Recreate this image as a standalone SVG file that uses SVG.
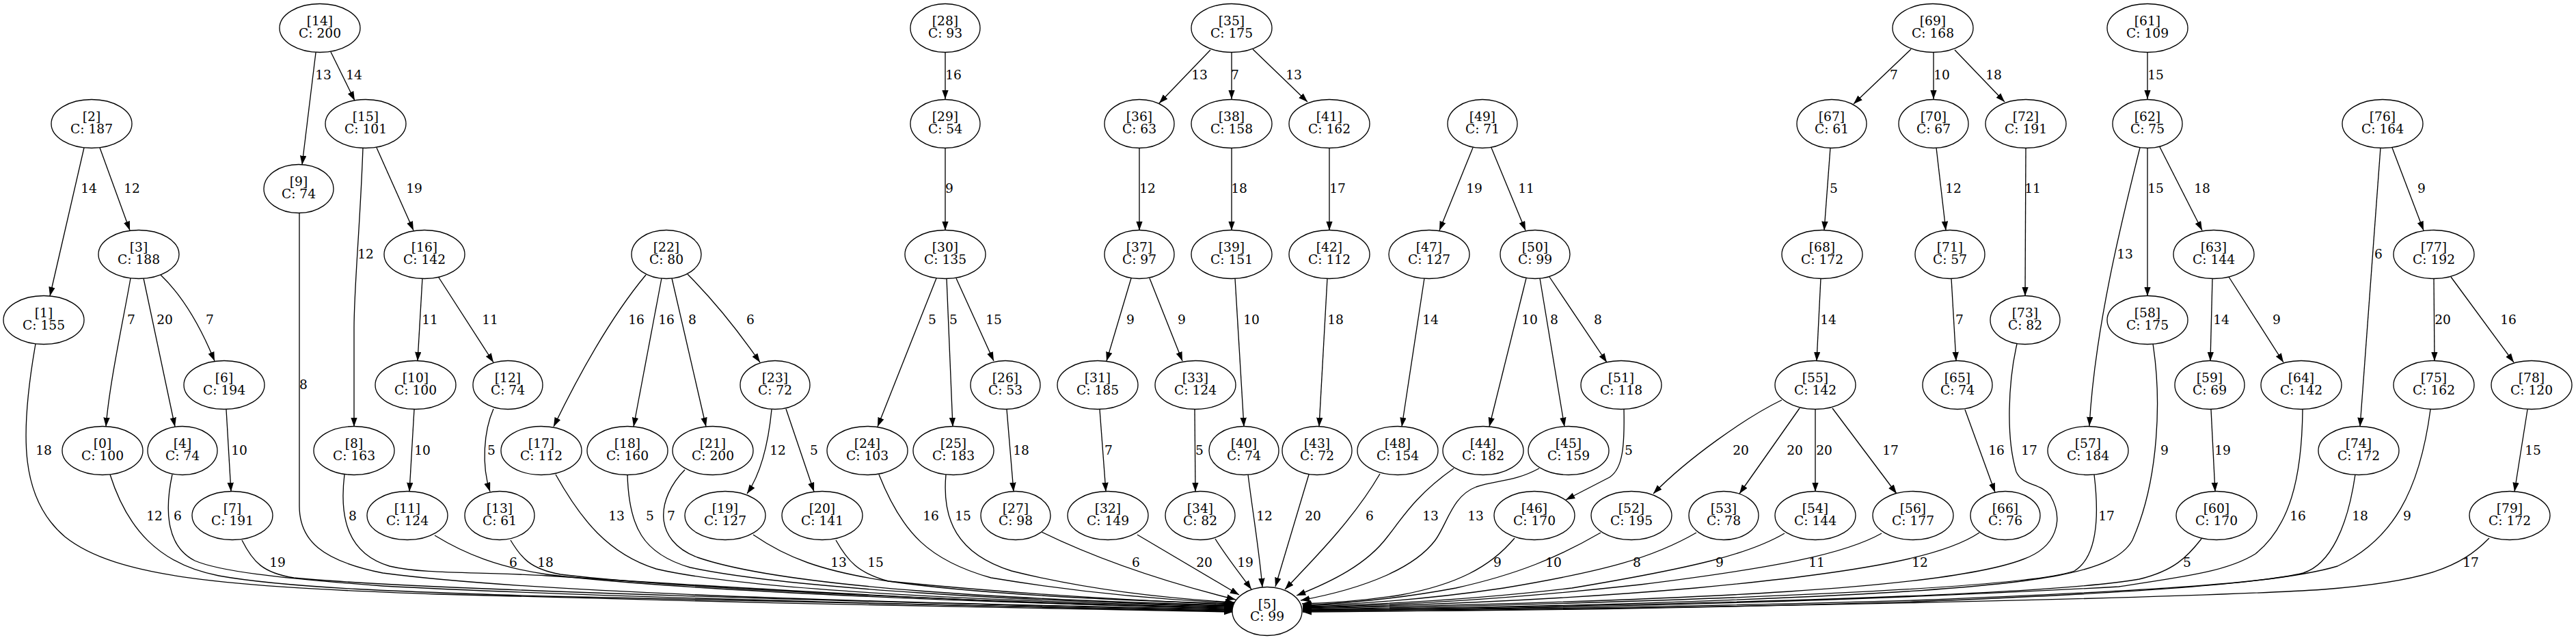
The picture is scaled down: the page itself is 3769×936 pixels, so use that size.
<svg xmlns="http://www.w3.org/2000/svg" width="3769" height="936" viewBox="0 0 3769 936">
<style>
.e path{fill:none;stroke:#000;stroke-width:1.33;marker-end:url(#a)}
.nd ellipse{fill:#fff;stroke:#000;stroke-width:1.33}
text{font-family:"DejaVu Serif","Liberation Serif",serif;font-size:18.67px;text-anchor:middle;fill:#000}
</style>
<defs>
<marker id="a" markerUnits="userSpaceOnUse" markerWidth="14" markerHeight="10" refX="13.3" refY="4.7" orient="auto"><path d="M0,0 L13.3,4.7 L0,9.4 z" fill="#000"/></marker>
</defs>
<rect width="3769" height="936" fill="#fff"/>
<g id="connectors">
<g class="e">
<path d="M462,77 L442,241"/>
<path d="M484,76 L519,147"/>
<path d="M123,216 L73,433"/>
<path d="M146,216 L190,337"/>
<path d="M531,216 C527,330 518,420 518,480 L518,624"/>
<path d="M551,216 L605,337"/>
<path d="M191,407 C182,460 160,560 155,624"/>
<path d="M210,407 L256,624"/>
<path d="M235,402 Q280,445 314,528"/>
<path d="M618,407 L611,528"/>
<path d="M642,406 L722,530"/>
<path d="M331,599 L338,719"/>
<path d="M606,599 L599,719"/>
<path d="M945,402 Q880,480 810,624"/>
<path d="M968,407 L927,624"/>
<path d="M983,407 L1033,624"/>
<path d="M1006,401 Q1060,455 1112,530"/>
<path d="M722,598 C708,630 704,680 717,719"/>
<path d="M1129,599 C1125,640 1115,690 1093,722"/>
<path d="M1150,598 L1191,719"/>
<path d="M1383,77 L1383,145"/>
<path d="M1383,217 L1383,337"/>
<path d="M1771,73 L1696,151"/>
<path d="M1802,77 L1802,145"/>
<path d="M1833,72 L1913,149"/>
<path d="M1667,217 L1667,337"/>
<path d="M1802,217 L1802,337"/>
<path d="M1945,217 L1945,337"/>
<path d="M1370,407 L1284,624"/>
<path d="M1385,407 L1394,624"/>
<path d="M1399,407 L1454,528"/>
<path d="M1655,407 L1619,528"/>
<path d="M1682,407 L1730,528"/>
<path d="M1807,407 L1820,624"/>
<path d="M1942,407 L1930,624"/>
<path d="M1473,599 L1483,719"/>
<path d="M1609,599 L1618,719"/>
<path d="M1748,599 L1749,719"/>
<path d="M2155,216 L2106,337"/>
<path d="M2182,216 L2232,337"/>
<path d="M2084,407 L2051,624"/>
<path d="M2233,407 L2179,624"/>
<path d="M2253,407 L2289,624"/>
<path d="M2267,405 L2351,530"/>
<path d="M2376,599 C2377,650 2375,685 2355,698 L2291,731"/>
<path d="M2796,72 L2712,152"/>
<path d="M2829,77 L2829,145"/>
<path d="M2860,73 L2933,149"/>
<path d="M2678,216 L2669,337"/>
<path d="M2833,216 L2847,337"/>
<path d="M2964,217 L2963,433"/>
<path d="M2664,407 L2658,528"/>
<path d="M2855,407 L2862,528"/>
<path d="M2607,585 C2555,610 2470,670 2419,722"/>
<path d="M2633,597 L2545,722"/>
<path d="M2656,599 L2656,719"/>
<path d="M2681,597 L2775,722"/>
<path d="M2875,599 L2919,720"/>
<path d="M3142,77 L3142,145"/>
<path d="M3131,216 C3105,320 3065,480 3057,623"/>
<path d="M3142,217 L3142,433"/>
<path d="M3160,215 L3222,337"/>
<path d="M3237,407 L3234,528"/>
<path d="M3261,405 L3341,530"/>
<path d="M3235,599 L3241,719"/>
<path d="M3483,216 L3453,624"/>
<path d="M3500,216 L3546,337"/>
<path d="M3561,407 L3562,528"/>
<path d="M3586,405 L3678,530"/>
<path d="M3698,599 L3679,719"/>
<path d="M52,503 C28,640 30,730 95,785 C170,845 330,858 640,869 C1000,880 1500,890 1804,895"/>
<path d="M161,694 C185,770 230,825 320,842 C420,860 600,866 800,872 C1200,882 1550,890 1804,894"/>
<path d="M252,694 C240,750 245,800 285,820 C320,835 400,845 560,857 C900,875 1500,888 1804,893"/>
<path d="M354,790 C370,822 385,838 430,845 C600,862 1300,882 1804,892"/>
<path d="M438,311 L438,740 C438,790 470,820 560,838 C800,870 1400,884 1804,891"/>
<path d="M504,694 C496,760 510,810 570,828 C620,840 700,836 800,842 C1200,868 1550,886 1804,890"/>
<path d="M636,783 C680,810 730,830 800,840 C1000,865 1500,884 1804,889"/>
<path d="M747,790 C762,815 775,832 820,840 C1000,862 1500,883 1804,888"/>
<path d="M813,694 C850,760 890,810 960,832 C1100,865 1500,881 1805,887"/>
<path d="M918,694 C920,770 940,810 1010,830 C1150,860 1500,880 1805,886"/>
<path d="M1002,687 C960,730 955,790 1020,815 C1150,860 1500,878 1805,885"/>
<path d="M1102,782 C1150,815 1200,835 1300,850 C1500,870 1700,880 1805,884"/>
<path d="M1223,790 C1240,820 1255,838 1300,850 C1450,872 1700,880 1806,883"/>
<path d="M1286,694 C1320,780 1360,820 1450,845 C1600,870 1720,878 1806,882"/>
<path d="M1384,694 C1378,760 1400,810 1480,835 C1600,865 1720,876 1806,881"/>
<path d="M1524,778 C1600,815 1700,850 1808,877"/>
<path d="M1664,782 C1720,815 1770,845 1813,870"/>
<path d="M1778,788 C1795,815 1815,840 1831,862"/>
<path d="M1826,694 C1833,750 1843,810 1847,859"/>
<path d="M1915,694 L1866,858"/>
<path d="M2019,693 C1980,760 1920,820 1880,862"/>
<path d="M2127,685 C2070,725 2050,760 2030,785 C2000,825 1950,850 1897,871"/>
<path d="M2252,685 C2215,705 2190,702 2160,712 C2125,725 2118,765 2100,790 C2070,830 2000,860 1903,878"/>
<path d="M2216,787 C2180,830 2130,855 2050,870 C2000,878 1950,882 1905,883"/>
<path d="M2342,779 C2280,815 2220,840 2130,860 C2050,875 1980,882 1906,885"/>
<path d="M2482,779 C2420,815 2350,835 2200,860 C2100,875 2000,883 1906,886"/>
<path d="M2611,780 C2560,810 2480,830 2300,860 C2150,878 2020,884 1906,887"/>
<path d="M2753,780 C2700,810 2600,830 2400,855 C2200,877 2050,885 1906,888"/>
<path d="M2896,779 C2850,810 2750,835 2480,860 C2250,880 2050,886 1906,889"/>
<path d="M2951,503 C2938,560 2935,640 2950,690 C2960,712 2985,705 3000,725 C3020,760 3010,800 2960,818 C2850,860 2500,878 1906,890"/>
<path d="M3064,694 C3072,760 3068,815 3035,835 C2980,855 2700,870 2300,882 C2100,888 2000,890 1906,891"/>
<path d="M3150,503 C3162,580 3160,700 3120,790 C3095,835 3000,855 2700,870 C2400,885 2100,890 1906,892"/>
<path d="M3221,788 C3200,815 3180,835 3130,847 C3000,870 2500,885 1906,892"/>
<path d="M3369,599 C3368,700 3350,770 3300,810 C3260,835 3200,843 3100,858 C2700,880 2300,890 1906,893"/>
<path d="M3446,694 C3435,770 3410,825 3370,838 C3300,855 3100,866 2800,878 C2400,890 2100,892 1906,893"/>
<path d="M3556,599 C3540,720 3500,790 3420,828 C3330,855 3100,868 2800,880 C2400,892 2100,894 1906,894"/>
<path d="M3642,787 C3600,830 3550,850 3400,862 C3200,875 2500,890 1906,895"/>
</g>
<g class="lbl">
<text x="473" y="116">13</text><text x="518" y="116">14</text>
<text x="130" y="282">14</text><text x="193" y="282">12</text>
<text x="535" y="378">12</text><text x="606" y="282">19</text>
<text x="192" y="474">7</text><text x="241" y="474">20</text><text x="307" y="474">7</text>
<text x="629" y="474">11</text><text x="717" y="474">11</text>
<text x="350" y="665">10</text><text x="618" y="665">10</text>
<text x="931" y="474">16</text><text x="975" y="474">16</text><text x="1013" y="474">8</text><text x="1098" y="474">6</text>
<text x="719" y="665">5</text><text x="1138" y="665">12</text><text x="1191" y="665">5</text>
<text x="1395" y="116">16</text><text x="1389" y="282">9</text>
<text x="1755" y="116">13</text><text x="1807" y="116">7</text><text x="1893" y="116">13</text>
<text x="1679" y="282">12</text><text x="1813" y="282">18</text><text x="1957" y="282">17</text>
<text x="1364" y="474">5</text><text x="1395" y="474">5</text><text x="1454" y="474">15</text>
<text x="1654" y="474">9</text><text x="1729" y="474">9</text><text x="1831" y="474">10</text><text x="1954" y="474">18</text>
<text x="1494" y="665">18</text><text x="1622" y="665">7</text><text x="1755" y="665">5</text>
<text x="2157" y="282">19</text><text x="2233" y="282">11</text>
<text x="2093" y="474">14</text><text x="2238" y="474">10</text><text x="2274" y="474">8</text><text x="2338" y="474">8</text>
<text x="2383" y="665">5</text>
<text x="2771" y="116">7</text><text x="2841" y="116">10</text><text x="2917" y="116">18</text>
<text x="2683" y="282">5</text><text x="2858" y="282">12</text><text x="2974" y="282">11</text>
<text x="2675" y="474">14</text><text x="2867" y="474">7</text>
<text x="2547" y="665">20</text><text x="2626" y="665">20</text><text x="2669" y="665">20</text><text x="2766" y="665">17</text><text x="2921" y="665">16</text>
<text x="3154" y="116">15</text><text x="3154" y="282">15</text><text x="3222" y="282">18</text><text x="3109" y="378">13</text>
<text x="3250" y="474">14</text><text x="3331" y="474">9</text><text x="3252" y="665">19</text>
<text x="3543" y="282">9</text><text x="3480" y="378">6</text><text x="3574" y="474">20</text><text x="3670" y="474">16</text><text x="3706" y="665">15</text>
<text x="64" y="665">18</text><text x="226" y="761">12</text><text x="260" y="761">6</text><text x="406" y="829">19</text>
<text x="444" y="569">8</text><text x="516" y="761">8</text><text x="751" y="829">6</text><text x="798" y="829">18</text>
<text x="902" y="761">13</text><text x="951" y="761">5</text><text x="982" y="761">7</text>
<text x="1227" y="829">13</text><text x="1281" y="829">15</text>
<text x="1362" y="761">16</text><text x="1409" y="761">15</text>
<text x="1662" y="829">6</text><text x="1762" y="829">20</text><text x="1822" y="829">19</text><text x="1850" y="761">12</text>
<text x="1921" y="761">20</text><text x="2004" y="761">6</text><text x="2093" y="761">13</text><text x="2159" y="761">13</text>
<text x="2191" y="829">9</text><text x="2273" y="829">10</text><text x="2395" y="829">8</text><text x="2516" y="829">9</text>
<text x="2658" y="829">11</text><text x="2809" y="829">12</text><text x="2969" y="665">17</text><text x="3082" y="761">17</text>
<text x="3167" y="665">9</text><text x="3200" y="829">5</text><text x="3362" y="761">16</text><text x="3453" y="761">18</text>
<text x="3522" y="761">9</text><text x="3615" y="829">17</text>
</g>
</g>
<g class="nd">
<g id="n0"><ellipse cx="150" cy="659" rx="59" ry="35.5"/><text x="150" y="655">[0]</text><text x="150" y="673">C: 100</text></g>
<g id="n1"><ellipse cx="64" cy="468" rx="59" ry="35.5"/><text x="64" y="464">[1]</text><text x="64" y="482">C: 155</text></g>
<g id="n2"><ellipse cx="134" cy="181" rx="59" ry="35.5"/><text x="134" y="177">[2]</text><text x="134" y="195">C: 187</text></g>
<g id="n3"><ellipse cx="203" cy="372" rx="59" ry="35.5"/><text x="203" y="368">[3]</text><text x="203" y="386">C: 188</text></g>
<g id="n4"><ellipse cx="267" cy="659" rx="51" ry="35.5"/><text x="267" y="655">[4]</text><text x="267" y="673">C: 74</text></g>
<g id="n5"><ellipse cx="1854" cy="894" rx="51" ry="35.5"/><text x="1854" y="890">[5]</text><text x="1854" y="908">C: 99</text></g>
<g id="n6"><ellipse cx="328" cy="563" rx="59" ry="35.5"/><text x="328" y="559">[6]</text><text x="328" y="577">C: 194</text></g>
<g id="n7"><ellipse cx="340" cy="754" rx="59" ry="35.5"/><text x="340" y="750">[7]</text><text x="340" y="768">C: 191</text></g>
<g id="n8"><ellipse cx="518" cy="659" rx="59" ry="35.5"/><text x="518" y="655">[8]</text><text x="518" y="673">C: 163</text></g>
<g id="n9"><ellipse cx="437" cy="276" rx="51" ry="35.5"/><text x="437" y="272">[9]</text><text x="437" y="290">C: 74</text></g>
<g id="n10"><ellipse cx="608" cy="563" rx="59" ry="35.5"/><text x="608" y="559">[10]</text><text x="608" y="577">C: 100</text></g>
<g id="n11"><ellipse cx="596" cy="754" rx="59" ry="35.5"/><text x="596" y="750">[11]</text><text x="596" y="768">C: 124</text></g>
<g id="n12"><ellipse cx="743" cy="563" rx="51" ry="35.5"/><text x="743" y="559">[12]</text><text x="743" y="577">C: 74</text></g>
<g id="n13"><ellipse cx="731" cy="754" rx="51" ry="35.5"/><text x="731" y="750">[13]</text><text x="731" y="768">C: 61</text></g>
<g id="n14"><ellipse cx="468" cy="41" rx="59" ry="35.5"/><text x="468" y="37">[14]</text><text x="468" y="55">C: 200</text></g>
<g id="n15"><ellipse cx="535" cy="181" rx="59" ry="35.5"/><text x="535" y="177">[15]</text><text x="535" y="195">C: 101</text></g>
<g id="n16"><ellipse cx="621" cy="372" rx="59" ry="35.5"/><text x="621" y="368">[16]</text><text x="621" y="386">C: 142</text></g>
<g id="n17"><ellipse cx="792" cy="659" rx="59" ry="35.5"/><text x="792" y="655">[17]</text><text x="792" y="673">C: 112</text></g>
<g id="n18"><ellipse cx="918" cy="659" rx="59" ry="35.5"/><text x="918" y="655">[18]</text><text x="918" y="673">C: 160</text></g>
<g id="n19"><ellipse cx="1061" cy="754" rx="59" ry="35.5"/><text x="1061" y="750">[19]</text><text x="1061" y="768">C: 127</text></g>
<g id="n20"><ellipse cx="1203" cy="754" rx="59" ry="35.5"/><text x="1203" y="750">[20]</text><text x="1203" y="768">C: 141</text></g>
<g id="n21"><ellipse cx="1043" cy="659" rx="59" ry="35.5"/><text x="1043" y="655">[21]</text><text x="1043" y="673">C: 200</text></g>
<g id="n22"><ellipse cx="975" cy="372" rx="51" ry="35.5"/><text x="975" y="368">[22]</text><text x="975" y="386">C: 80</text></g>
<g id="n23"><ellipse cx="1134" cy="563" rx="51" ry="35.5"/><text x="1134" y="559">[23]</text><text x="1134" y="577">C: 72</text></g>
<g id="n24"><ellipse cx="1269" cy="659" rx="59" ry="35.5"/><text x="1269" y="655">[24]</text><text x="1269" y="673">C: 103</text></g>
<g id="n25"><ellipse cx="1395" cy="659" rx="59" ry="35.5"/><text x="1395" y="655">[25]</text><text x="1395" y="673">C: 183</text></g>
<g id="n26"><ellipse cx="1471" cy="563" rx="51" ry="35.5"/><text x="1471" y="559">[26]</text><text x="1471" y="577">C: 53</text></g>
<g id="n27"><ellipse cx="1486" cy="754" rx="51" ry="35.5"/><text x="1486" y="750">[27]</text><text x="1486" y="768">C: 98</text></g>
<g id="n28"><ellipse cx="1383" cy="41" rx="51" ry="35.5"/><text x="1383" y="37">[28]</text><text x="1383" y="55">C: 93</text></g>
<g id="n29"><ellipse cx="1383" cy="181" rx="51" ry="35.5"/><text x="1383" y="177">[29]</text><text x="1383" y="195">C: 54</text></g>
<g id="n30"><ellipse cx="1383" cy="372" rx="59" ry="35.5"/><text x="1383" y="368">[30]</text><text x="1383" y="386">C: 135</text></g>
<g id="n31"><ellipse cx="1606" cy="563" rx="59" ry="35.5"/><text x="1606" y="559">[31]</text><text x="1606" y="577">C: 185</text></g>
<g id="n32"><ellipse cx="1621" cy="754" rx="59" ry="35.5"/><text x="1621" y="750">[32]</text><text x="1621" y="768">C: 149</text></g>
<g id="n33"><ellipse cx="1749" cy="563" rx="59" ry="35.5"/><text x="1749" y="559">[33]</text><text x="1749" y="577">C: 124</text></g>
<g id="n34"><ellipse cx="1756" cy="754" rx="51" ry="35.5"/><text x="1756" y="750">[34]</text><text x="1756" y="768">C: 82</text></g>
<g id="n35"><ellipse cx="1802" cy="41" rx="59" ry="35.5"/><text x="1802" y="37">[35]</text><text x="1802" y="55">C: 175</text></g>
<g id="n36"><ellipse cx="1667" cy="181" rx="51" ry="35.5"/><text x="1667" y="177">[36]</text><text x="1667" y="195">C: 63</text></g>
<g id="n37"><ellipse cx="1667" cy="372" rx="51" ry="35.5"/><text x="1667" y="368">[37]</text><text x="1667" y="386">C: 97</text></g>
<g id="n38"><ellipse cx="1802" cy="181" rx="59" ry="35.5"/><text x="1802" y="177">[38]</text><text x="1802" y="195">C: 158</text></g>
<g id="n39"><ellipse cx="1802" cy="372" rx="59" ry="35.5"/><text x="1802" y="368">[39]</text><text x="1802" y="386">C: 151</text></g>
<g id="n40"><ellipse cx="1820" cy="659" rx="51" ry="35.5"/><text x="1820" y="655">[40]</text><text x="1820" y="673">C: 74</text></g>
<g id="n41"><ellipse cx="1945" cy="181" rx="59" ry="35.5"/><text x="1945" y="177">[41]</text><text x="1945" y="195">C: 162</text></g>
<g id="n42"><ellipse cx="1945" cy="372" rx="59" ry="35.5"/><text x="1945" y="368">[42]</text><text x="1945" y="386">C: 112</text></g>
<g id="n43"><ellipse cx="1927" cy="659" rx="51" ry="35.5"/><text x="1927" y="655">[43]</text><text x="1927" y="673">C: 72</text></g>
<g id="n44"><ellipse cx="2170" cy="659" rx="59" ry="35.5"/><text x="2170" y="655">[44]</text><text x="2170" y="673">C: 182</text></g>
<g id="n45"><ellipse cx="2295" cy="659" rx="59" ry="35.5"/><text x="2295" y="655">[45]</text><text x="2295" y="673">C: 159</text></g>
<g id="n46"><ellipse cx="2245" cy="754" rx="59" ry="35.5"/><text x="2245" y="750">[46]</text><text x="2245" y="768">C: 170</text></g>
<g id="n47"><ellipse cx="2091" cy="372" rx="59" ry="35.5"/><text x="2091" y="368">[47]</text><text x="2091" y="386">C: 127</text></g>
<g id="n48"><ellipse cx="2045" cy="659" rx="59" ry="35.5"/><text x="2045" y="655">[48]</text><text x="2045" y="673">C: 154</text></g>
<g id="n49"><ellipse cx="2169" cy="181" rx="51" ry="35.5"/><text x="2169" y="177">[49]</text><text x="2169" y="195">C: 71</text></g>
<g id="n50"><ellipse cx="2246" cy="372" rx="51" ry="35.5"/><text x="2246" y="368">[50]</text><text x="2246" y="386">C: 99</text></g>
<g id="n51"><ellipse cx="2372" cy="563" rx="59" ry="35.5"/><text x="2372" y="559">[51]</text><text x="2372" y="577">C: 118</text></g>
<g id="n52"><ellipse cx="2387" cy="754" rx="59" ry="35.5"/><text x="2387" y="750">[52]</text><text x="2387" y="768">C: 195</text></g>
<g id="n53"><ellipse cx="2522" cy="754" rx="51" ry="35.5"/><text x="2522" y="750">[53]</text><text x="2522" y="768">C: 78</text></g>
<g id="n54"><ellipse cx="2656" cy="754" rx="59" ry="35.5"/><text x="2656" y="750">[54]</text><text x="2656" y="768">C: 144</text></g>
<g id="n55"><ellipse cx="2656" cy="563" rx="59" ry="35.5"/><text x="2656" y="559">[55]</text><text x="2656" y="577">C: 142</text></g>
<g id="n56"><ellipse cx="2799" cy="754" rx="59" ry="35.5"/><text x="2799" y="750">[56]</text><text x="2799" y="768">C: 177</text></g>
<g id="n57"><ellipse cx="3055" cy="659" rx="59" ry="35.5"/><text x="3055" y="655">[57]</text><text x="3055" y="673">C: 184</text></g>
<g id="n58"><ellipse cx="3142" cy="468" rx="59" ry="35.5"/><text x="3142" y="464">[58]</text><text x="3142" y="482">C: 175</text></g>
<g id="n59"><ellipse cx="3233" cy="563" rx="51" ry="35.5"/><text x="3233" y="559">[59]</text><text x="3233" y="577">C: 69</text></g>
<g id="n60"><ellipse cx="3243" cy="754" rx="59" ry="35.5"/><text x="3243" y="750">[60]</text><text x="3243" y="768">C: 170</text></g>
<g id="n61"><ellipse cx="3142" cy="41" rx="59" ry="35.5"/><text x="3142" y="37">[61]</text><text x="3142" y="55">C: 109</text></g>
<g id="n62"><ellipse cx="3142" cy="181" rx="51" ry="35.5"/><text x="3142" y="177">[62]</text><text x="3142" y="195">C: 75</text></g>
<g id="n63"><ellipse cx="3239" cy="372" rx="59" ry="35.5"/><text x="3239" y="368">[63]</text><text x="3239" y="386">C: 144</text></g>
<g id="n64"><ellipse cx="3367" cy="563" rx="59" ry="35.5"/><text x="3367" y="559">[64]</text><text x="3367" y="577">C: 142</text></g>
<g id="n65"><ellipse cx="2864" cy="563" rx="51" ry="35.5"/><text x="2864" y="559">[65]</text><text x="2864" y="577">C: 74</text></g>
<g id="n66"><ellipse cx="2934" cy="754" rx="51" ry="35.5"/><text x="2934" y="750">[66]</text><text x="2934" y="768">C: 76</text></g>
<g id="n67"><ellipse cx="2680" cy="181" rx="51" ry="35.5"/><text x="2680" y="177">[67]</text><text x="2680" y="195">C: 61</text></g>
<g id="n68"><ellipse cx="2666" cy="372" rx="59" ry="35.5"/><text x="2666" y="368">[68]</text><text x="2666" y="386">C: 172</text></g>
<g id="n69"><ellipse cx="2828" cy="41" rx="59" ry="35.5"/><text x="2828" y="37">[69]</text><text x="2828" y="55">C: 168</text></g>
<g id="n70"><ellipse cx="2829" cy="181" rx="51" ry="35.5"/><text x="2829" y="177">[70]</text><text x="2829" y="195">C: 67</text></g>
<g id="n71"><ellipse cx="2853" cy="372" rx="51" ry="35.5"/><text x="2853" y="368">[71]</text><text x="2853" y="386">C: 57</text></g>
<g id="n72"><ellipse cx="2964" cy="181" rx="59" ry="35.5"/><text x="2964" y="177">[72]</text><text x="2964" y="195">C: 191</text></g>
<g id="n73"><ellipse cx="2963" cy="468" rx="51" ry="35.5"/><text x="2963" y="464">[73]</text><text x="2963" y="482">C: 82</text></g>
<g id="n74"><ellipse cx="3451" cy="659" rx="59" ry="35.5"/><text x="3451" y="655">[74]</text><text x="3451" y="673">C: 172</text></g>
<g id="n75"><ellipse cx="3561" cy="563" rx="59" ry="35.5"/><text x="3561" y="559">[75]</text><text x="3561" y="577">C: 162</text></g>
<g id="n76"><ellipse cx="3486" cy="181" rx="59" ry="35.5"/><text x="3486" y="177">[76]</text><text x="3486" y="195">C: 164</text></g>
<g id="n77"><ellipse cx="3561" cy="372" rx="59" ry="35.5"/><text x="3561" y="368">[77]</text><text x="3561" y="386">C: 192</text></g>
<g id="n78"><ellipse cx="3704" cy="563" rx="59" ry="35.5"/><text x="3704" y="559">[78]</text><text x="3704" y="577">C: 120</text></g>
<g id="n79"><ellipse cx="3672" cy="754" rx="59" ry="35.5"/><text x="3672" y="750">[79]</text><text x="3672" y="768">C: 172</text></g>
</g>
</svg>
